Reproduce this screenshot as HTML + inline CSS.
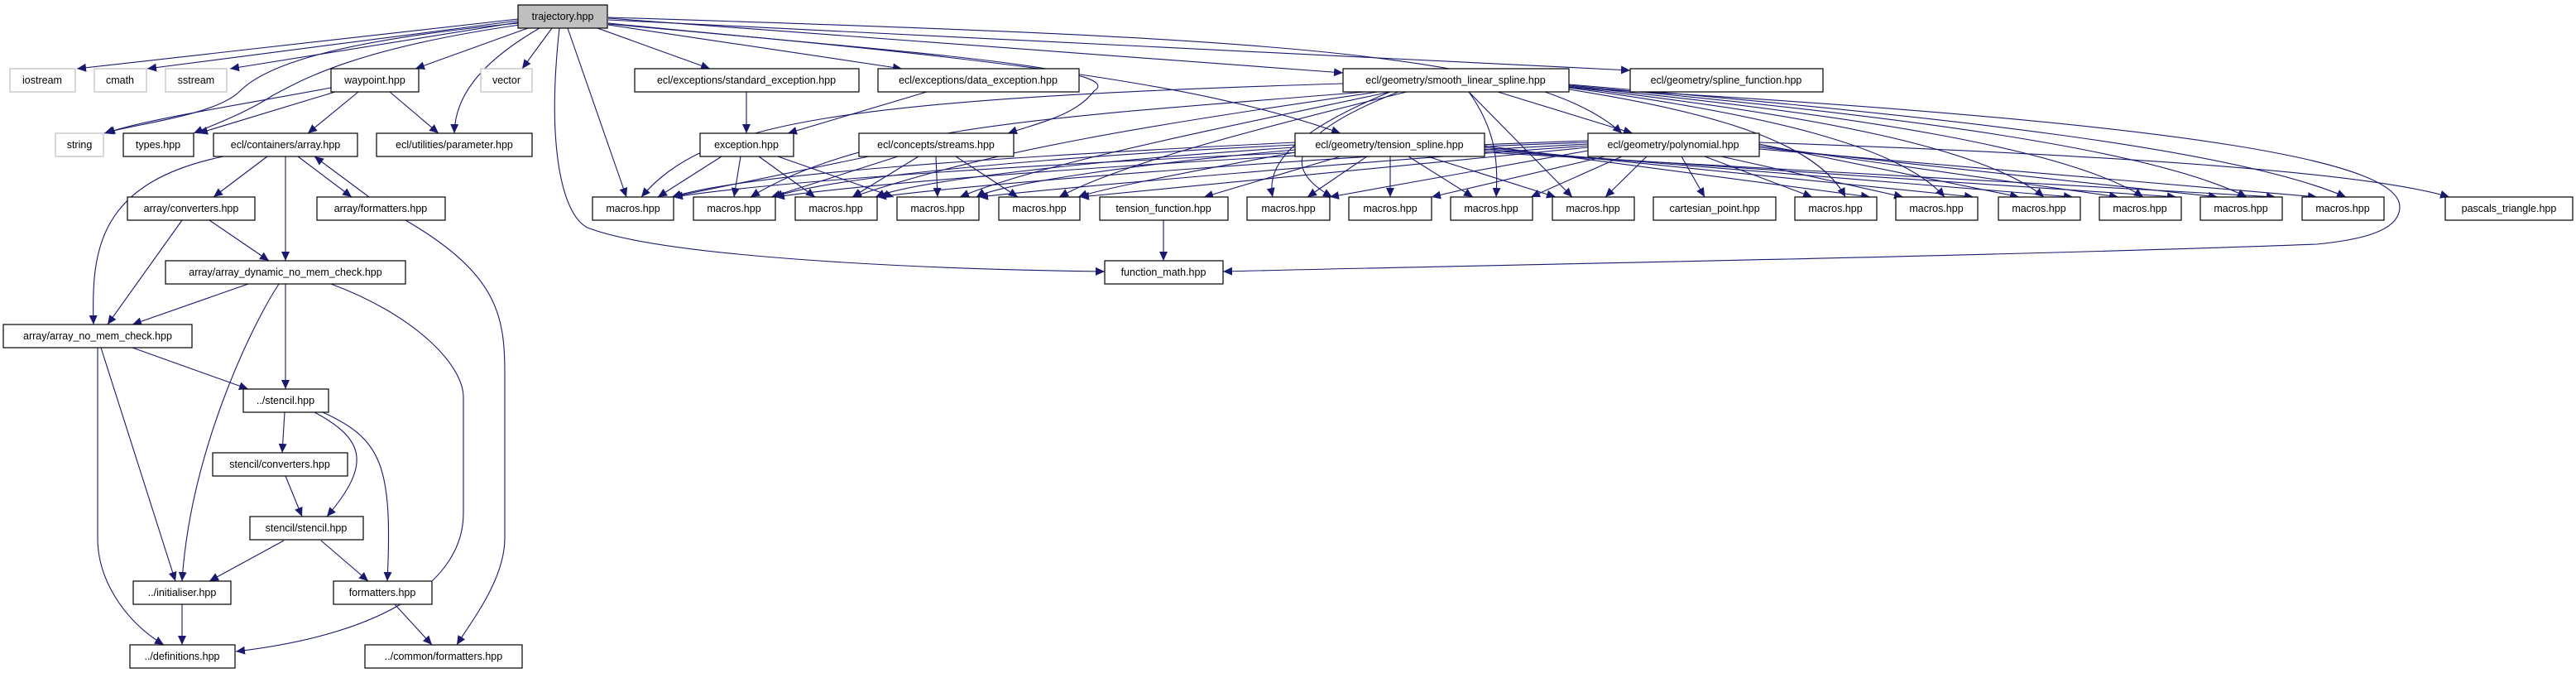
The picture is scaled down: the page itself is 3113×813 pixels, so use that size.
<!DOCTYPE html>
<html><head><meta charset="utf-8"><style>
html,body{margin:0;padding:0;background:#fff}
svg{display:block}
text{font-family:"Liberation Sans",sans-serif;font-size:12.5px;fill:#000;text-anchor:middle}
.n{fill:#fff;stroke:#000;stroke-width:1.2}
.g{fill:#fff;stroke:#bfbfbf;stroke-width:1.2}
.e{fill:none;stroke:#191970;stroke-width:1.1;marker-end:url(#a)}
</style></head><body>
<svg width="3113" height="813" viewBox="0 0 3113 813" xmlns="http://www.w3.org/2000/svg">
<defs><marker id="a" markerUnits="userSpaceOnUse" markerWidth="12" markerHeight="10" refX="11" refY="5" orient="auto"><path d="M0,0 L11,5 L0,10 z" fill="#191970"/></marker></defs>
<g>
<!-- trajectory edges -->
<path class="e" d="M626,23 L93,83"/>
<path class="e" d="M626,25 L178,83"/>
<path class="e" d="M626,27 L278,83"/>
<path class="e" d="M626,28 C400,50 320,80 290,110 C260,140 160,150 126,161"/>
<path class="e" d="M628,30 C420,60 360,100 330,115 C300,135 260,150 234,161"/>
<path class="e" d="M638,34 L502,83"/>
<path class="e" d="M667,34 L631,83"/>
<path class="e" d="M652,34 C590,70 550,110 549,161"/>
<path class="e" d="M686,34 L757,238"/>
<path class="e" d="M676,34 C660,180 680,260 710,275 C800,310 1100,325 1335,328"/>
<path class="e" d="M722,34 L858,83"/>
<path class="e" d="M735,30 L1090,83"/>
<path class="e" d="M735,28 C1050,60 1370,80 1322,110 C1300,140 1250,150 1218,161"/>
<path class="e" d="M735,22 L1623,88"/>
<path class="e" d="M735,29 C1200,70 1450,100 1620,161"/>
<path class="e" d="M735,21 C1500,45 1850,60 1960,161"/>
<path class="e" d="M735,24 L1970,85"/>
<!-- waypoint -->
<path class="e" d="M400,106 C300,125 170,145 128,161"/>
<path class="e" d="M405,111 L240,161"/>
<path class="e" d="M433,111 L372,161"/>
<path class="e" d="M471,111 L530,161"/>
<!-- array -->
<path class="e" d="M323,189 L258,238"/>
<path class="e" d="M345,189 L345,315"/>
<path class="e" d="M360,189 L425,238"/>
<path class="e" d="M446,238 L380,189"/>
<path class="e" d="M270,189 C120,220 110,300 113,392"/>
<path class="e" d="M253,266 L325,315"/>
<path class="e" d="M220,266 L130,392"/>
<path class="e" d="M490,266 C600,330 610,380 610,450 L610,650 C610,700 570,750 552,779"/>
<path class="e" d="M300,343 L160,392"/>
<path class="e" d="M345,343 L345,470"/>
<path class="e" d="M337,343 C300,400 230,550 220,702"/>
<path class="e" d="M400,343 C500,380 560,440 560,480 L560,620 C560,700 470,765 285,787"/>
<path class="e" d="M160,420 L300,470"/>
<path class="e" d="M122,420 L212,702"/>
<path class="e" d="M118,420 L118,650 C118,700 150,750 198,779"/>
<path class="e" d="M344,498 L341,547"/>
<path class="e" d="M380,498 C440,530 450,560 395,624"/>
<path class="e" d="M390,498 C460,530 475,560 468,702"/>
<path class="e" d="M345,575 L365,624"/>
<path class="e" d="M343,653 L253,702"/>
<path class="e" d="M388,653 L445,702"/>
<path class="e" d="M220,730 L220,779"/>
<path class="e" d="M477,730 L522,779"/>
<!-- exceptions / streams -->
<path class="e" d="M902,111 L902,161"/>
<path class="e" d="M1120,111 L952,161"/>
<path class="e" d="M872,189 L795,238"/>
<path class="e" d="M895,189 L887,238"/>
<path class="e" d="M917,189 L985,238"/>
<path class="e" d="M940,189 L1080,238"/>
<path class="e" d="M1050,189 L812,238"/>
<path class="e" d="M1085,189 L932,238"/>
<path class="e" d="M1110,189 L1030,238"/>
<path class="e" d="M1131,189 L1133,238"/>
<path class="e" d="M1155,189 L1230,238"/>
<path class="e" d="M1406,266 L1406,315"/>
<!-- smooth_linear_spline -->
<path class="e" d="M1623,101 C1000,120 850,150 775,238"/>
<path class="e" d="M1650,111 C1300,140 1050,150 907,238"/>
<path class="e" d="M1665,111 C1400,150 1200,180 1030,238"/>
<path class="e" d="M1680,111 C1450,160 1250,200 1160,238"/>
<path class="e" d="M1700,111 C1500,160 1350,200 1280,238"/>
<path class="e" d="M1680,111 C1560,160 1530,200 1538,238"/>
<path class="e" d="M1690,111 C1540,170 1560,210 1610,238"/>
<path class="e" d="M1775,111 C1810,160 1810,200 1808,238"/>
<path class="e" d="M1775,111 L1900,238"/>
<path class="e" d="M1810,111 L1973,161"/>
<path class="e" d="M1896,108 C2100,140 2200,180 2230,238"/>
<path class="e" d="M1896,106 C2150,140 2300,180 2350,238"/>
<path class="e" d="M1896,105 C2200,140 2400,180 2470,238"/>
<path class="e" d="M1896,104 C2250,140 2500,180 2590,238"/>
<path class="e" d="M1896,103 C2300,140 2600,180 2715,238"/>
<path class="e" d="M1896,102 C2350,140 2700,180 2835,238"/>
<path class="e" d="M1896,106 C2700,150 2900,200 2900,250 C2900,280 2850,290 2800,295 C2400,310 1800,320 1478,328"/>
<!-- tension_spline -->
<path class="e" d="M1565,172 C1200,190 900,210 812,238"/>
<path class="e" d="M1565,175 C1250,190 1000,215 935,238"/>
<path class="e" d="M1565,178 C1300,195 1100,220 1058,238"/>
<path class="e" d="M1565,181 C1350,200 1200,225 1180,238"/>
<path class="e" d="M1565,184 C1450,205 1330,228 1303,238"/>
<path class="e" d="M1620,189 L1455,238"/>
<path class="e" d="M1652,189 L1580,238"/>
<path class="e" d="M1680,189 L1680,238"/>
<path class="e" d="M1702,189 L1780,238"/>
<path class="e" d="M1725,189 L1880,238"/>
<path class="e" d="M1794,176 L2260,238"/>
<path class="e" d="M1794,178 L2385,238"/>
<path class="e" d="M1794,180 L2505,238"/>
<path class="e" d="M1794,182 L2630,238"/>
<path class="e" d="M1794,184 L2750,238"/>
<!-- polynomial -->
<path class="e" d="M1919,170 C1500,185 1000,210 814,238"/>
<path class="e" d="M1919,172 C1550,185 1100,215 937,238"/>
<path class="e" d="M1919,174 C1600,190 1200,220 1060,238"/>
<path class="e" d="M1919,176 C1650,195 1300,225 1183,238"/>
<path class="e" d="M1919,178 C1700,200 1400,228 1305,238"/>
<path class="e" d="M1919,182 L1607,238"/>
<path class="e" d="M1940,189 L1730,238"/>
<path class="e" d="M1960,189 L1850,238"/>
<path class="e" d="M1990,189 L1940,238"/>
<path class="e" d="M2032,189 L2060,238"/>
<path class="e" d="M2060,189 L2190,238"/>
<path class="e" d="M2080,189 L2300,238"/>
<path class="e" d="M2126,174 L2440,238"/>
<path class="e" d="M2126,176 L2560,238"/>
<path class="e" d="M2126,178 L2680,238"/>
<path class="e" d="M2126,180 L2800,238"/>
<path class="e" d="M2126,172 C2500,185 2850,205 2960,238"/>
</g>
<g>
<rect x="626" y="6" width="108" height="28" fill="#bfbfbf" stroke="#000" stroke-width="1.2"/><text x="680" y="24">trajectory.hpp</text>
<rect class="g" x="12" y="83" width="79" height="28"/><text x="51" y="101">iostream</text>
<rect class="g" x="114" y="83" width="63" height="28"/><text x="145" y="101">cmath</text>
<rect class="g" x="200" y="83" width="74" height="28"/><text x="237" y="101">sstream</text>
<rect class="n" x="400" y="83" width="106" height="28"/><text x="453" y="101">waypoint.hpp</text>
<rect class="g" x="581" y="83" width="62" height="28"/><text x="612" y="101">vector</text>
<rect class="n" x="767" y="83" width="271" height="28"/><text x="902" y="101">ecl/exceptions/standard_exception.hpp</text>
<rect class="n" x="1061" y="83" width="243" height="28"/><text x="1182" y="101">ecl/exceptions/data_exception.hpp</text>
<rect class="n" x="1623" y="83" width="273" height="28"/><text x="1759" y="101">ecl/geometry/smooth_linear_spline.hpp</text>
<rect class="n" x="1970" y="83" width="233" height="28"/><text x="2086" y="101">ecl/geometry/spline_function.hpp</text>

<rect class="g" x="67" y="161" width="58" height="28"/><text x="96" y="179">string</text>
<rect class="n" x="149" y="161" width="85" height="28"/><text x="191" y="179">types.hpp</text>
<rect class="n" x="258" y="161" width="174" height="28"/><text x="345" y="179">ecl/containers/array.hpp</text>
<rect class="n" x="455" y="161" width="188" height="28"/><text x="549" y="179">ecl/utilities/parameter.hpp</text>
<rect class="n" x="846" y="161" width="113" height="28"/><text x="902" y="179">exception.hpp</text>
<rect class="n" x="1038" y="161" width="187" height="28"/><text x="1131" y="179">ecl/concepts/streams.hpp</text>
<rect class="n" x="1565" y="161" width="229" height="28"/><text x="1679" y="179">ecl/geometry/tension_spline.hpp</text>
<rect class="n" x="1919" y="161" width="207" height="28"/><text x="2022" y="179">ecl/geometry/polynomial.hpp</text>

<rect class="n" x="154" y="238" width="154" height="28"/><text x="231" y="256">array/converters.hpp</text>
<rect class="n" x="383" y="238" width="155" height="28"/><text x="460" y="256">array/formatters.hpp</text>
<rect class="n" x="716" y="238" width="98" height="28"/><text x="765" y="256">macros.hpp</text>
<rect class="n" x="838" y="238" width="99" height="28"/><text x="887" y="256">macros.hpp</text>
<rect class="n" x="961" y="238" width="99" height="28"/><text x="1010" y="256">macros.hpp</text>
<rect class="n" x="1084" y="238" width="99" height="28"/><text x="1133" y="256">macros.hpp</text>
<rect class="n" x="1207" y="238" width="98" height="28"/><text x="1256" y="256">macros.hpp</text>
<rect class="n" x="1329" y="238" width="155" height="28"/><text x="1406" y="256">tension_function.hpp</text>
<rect class="n" x="1507" y="238" width="100" height="28"/><text x="1557" y="256">macros.hpp</text>
<rect class="n" x="1630" y="238" width="100" height="28"/><text x="1680" y="256">macros.hpp</text>
<rect class="n" x="1753" y="238" width="99" height="28"/><text x="1802" y="256">macros.hpp</text>
<rect class="n" x="1876" y="238" width="99" height="28"/><text x="1925" y="256">macros.hpp</text>
<rect class="n" x="1998" y="238" width="148" height="28"/><text x="2072" y="256">cartesian_point.hpp</text>
<rect class="n" x="2169" y="238" width="99" height="28"/><text x="2218" y="256">macros.hpp</text>
<rect class="n" x="2291" y="238" width="99" height="28"/><text x="2340" y="256">macros.hpp</text>
<rect class="n" x="2415" y="238" width="99" height="28"/><text x="2464" y="256">macros.hpp</text>
<rect class="n" x="2537" y="238" width="99" height="28"/><text x="2586" y="256">macros.hpp</text>
<rect class="n" x="2659" y="238" width="99" height="28"/><text x="2708" y="256">macros.hpp</text>
<rect class="n" x="2782" y="238" width="99" height="28"/><text x="2831" y="256">macros.hpp</text>
<rect class="n" x="2955" y="238" width="154" height="28"/><text x="3032" y="256">pascals_triangle.hpp</text>

<rect class="n" x="200" y="315" width="290" height="28"/><text x="345" y="333">array/array_dynamic_no_mem_check.hpp</text>
<rect class="n" x="1335" y="315" width="143" height="28"/><text x="1406" y="333">function_math.hpp</text>

<rect class="n" x="4" y="392" width="228" height="28"/><text x="118" y="410">array/array_no_mem_check.hpp</text>
<rect class="n" x="294" y="470" width="103" height="28"/><text x="345" y="488">../stencil.hpp</text>
<rect class="n" x="257" y="547" width="163" height="28"/><text x="338" y="565">stencil/converters.hpp</text>
<rect class="n" x="302" y="624" width="137" height="28"/><text x="370" y="642">stencil/stencil.hpp</text>
<rect class="n" x="161" y="702" width="118" height="28"/><text x="220" y="720">../initialiser.hpp</text>
<rect class="n" x="403" y="702" width="119" height="28"/><text x="462" y="720">formatters.hpp</text>
<rect class="n" x="157" y="779" width="127" height="28"/><text x="220" y="797">../definitions.hpp</text>
<rect class="n" x="441" y="779" width="190" height="28"/><text x="536" y="797">../common/formatters.hpp</text>
</g>
</svg>
</body></html>
